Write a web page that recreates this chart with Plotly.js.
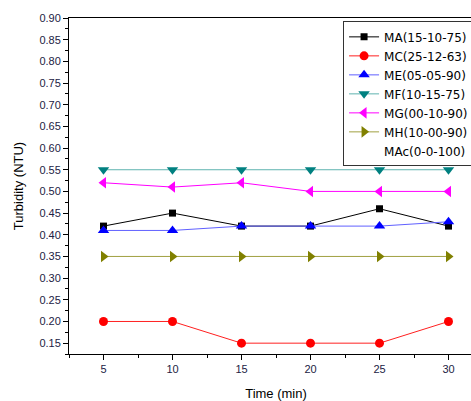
<!DOCTYPE html>
<html><head><meta charset="utf-8">
<script src="https://cdn.plot.ly/plotly-3.0.1.min.js"></script>
<style>html,body{margin:0;padding:0;overflow:hidden;background:#fff;}</style>
</head><body>
<div id="chart" style="width:487px;height:401px;"></div>
<script>
const time = [5, 10, 15, 20, 25, 30];
const seriesNames = ["MA(15-10-75)", "MC(25-12-63)", "ME(05-05-90)", "MF(10-15-75)", "MG(00-10-90)", "MH(10-00-90)", "MAc(0-0-100)"];
const MA = [0.42, 0.45, 0.42, 0.42, 0.46, 0.42];
const MC = [0.20, 0.20, 0.15, 0.15, 0.15, 0.20];
const ME = [0.41, 0.41, 0.42, 0.42, 0.42, 0.43];
const MF = [0.55, 0.55, 0.55, 0.55, 0.55, 0.55];
const MG = [0.52, 0.51, 0.52, 0.50, 0.50, 0.50];
const MH = [0.35, 0.35, 0.35, 0.35, 0.35, 0.35];
const MAc = [null, null, null, null, null, null];

const styles = [
  {line:'#000000', marker:'#000000', symbol:'square', size:7},
  {line:'#ff2020', marker:'#ff0000', symbol:'circle', size:9},
  {line:'#6060ff', marker:'#0000ff', symbol:'triangle-up', size:10},
  {line:'#5fb3b0', marker:'#008080', symbol:'triangle-down', size:10},
  {line:'#ff00ff', marker:'#ff00ff', symbol:'triangle-left', size:10},
  {line:'#a0a040', marker:'#808000', symbol:'triangle-right', size:10}
];
const values = [MA, MC, ME, MF, MG, MH];
const traces = values.map((v, i) => ({
  x: time, y: v, name: seriesNames[i], type: 'scatter', mode: 'lines+markers',
  line: {color: styles[i].line, width: 1},
  marker: {color: styles[i].marker, symbol: styles[i].symbol, size: styles[i].size}
}));
traces.push({x: time, y: MAc, name: seriesNames[6], type: 'scatter', mode: 'lines',
  line: {color: 'rgba(0,0,0,0)', width: 0}});

const tickFont = {family: 'Liberation Sans, Arial, sans-serif', size: 11, color: '#222244'};
const layout = {
  width: 487, height: 401,
  margin: {l: 69, r: 4, t: 18, b: 47},
  paper_bgcolor: '#fff', plot_bgcolor: '#fff',
  showlegend: true,
  legend: {x: 0.662, y: 0.99, xanchor: 'left', yanchor: 'top',
    bgcolor: '#fff', bordercolor: '#333', borderwidth: 1,
    font: {family: 'DejaVu Sans, sans-serif', size: 12, color: '#000'},
    tracegroupgap: 0, itemwidth: 30},
  xaxis: {range: [2.5, 32.5], tickvals: time, ticks: 'outside', ticklen: 5, tickcolor: '#000',
    minor: {dtick: 2.5, tick0: 2.5, ticks: 'outside', ticklen: 3, tickcolor: '#000'},
    showline: true, linecolor: '#000', linewidth: 1, mirror: true, showgrid: false, zeroline: false,
    tickfont: tickFont,
    title: {text: 'Time (min)', font: {family: 'Liberation Sans, Arial, sans-serif', size: 13, color: '#000'}, standoff: 14}},
  yaxis: {range: [0.125, 0.9], dtick: 0.05, tick0: 0.15, tickformat: '.2f', ticks: 'outside', ticklen: 5, tickcolor: '#000',
    minor: {dtick: 0.025, tick0: 0.125, ticks: 'outside', ticklen: 3, tickcolor: '#000'},
    showline: true, linecolor: '#000', linewidth: 1, mirror: true, showgrid: false, zeroline: false,
    tickfont: tickFont,
    title: {text: 'Turbidity (NTU)', font: {family: 'Liberation Sans, Arial, sans-serif', size: 13, color: '#000'}, standoff: 12}}
};
Plotly.newPlot('chart', traces, layout, {displayModeBar: false, staticPlot: true});
</script>
</body></html>
